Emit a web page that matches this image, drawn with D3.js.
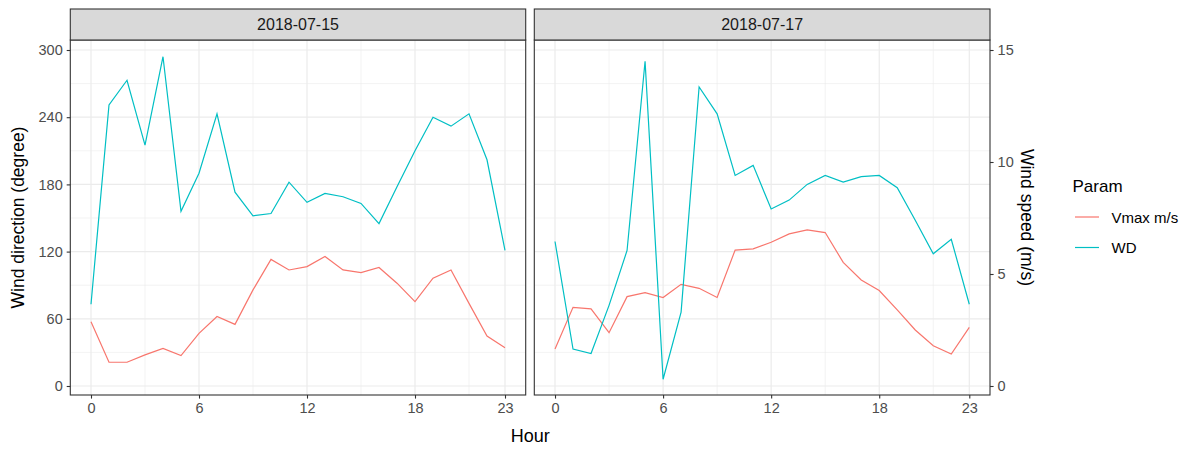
<!DOCTYPE html>
<html>
<head>
<meta charset="utf-8">
<script src="https://cdn.jsdelivr.net/npm/d3@7"></script>
<style>
  html, body { margin: 0; padding: 0; background: #ffffff; }
  svg { display: block; font-family: "Liberation Sans", Arial, sans-serif; }
</style>
</head>
<body>
<svg id="chart" width="1190" height="450"></svg>
<script>
// Hourly wind observations for two days
const dates = ["2018-07-15", "2018-07-17"];
const hours = d3.range(0, 24);

// Wind direction (degree)
const wd0715 = [73, 251, 273, 215, 294, 156, 190, 243, 173, 152, 154, 182,
                164, 172, 169, 163, 145, 178, 210, 240, 232, 243, 202, 121];
const wd0717 = [129, 33, 29, 72, 121, 290, 6, 66, 267, 243, 188, 197,
                158, 166, 180, 188, 182, 187, 188, 177, 148, 118, 131, 73];

// Maximum wind speed (m/s)
const vmax0715 = [2.87, 1.06, 1.06, 1.39, 1.68, 1.36, 2.35, 3.10, 2.75, 4.29, 5.65, 5.18,
                  5.33, 5.78, 5.18, 5.06, 5.29, 4.59, 3.77, 4.81, 5.18, 3.69, 2.23, 1.71];
const vmax0717 = [1.65, 3.51, 3.44, 2.38, 3.99, 4.17, 3.95, 4.54, 4.36, 3.95, 6.07, 6.12,
                  6.42, 6.79, 6.97, 6.85, 5.52, 4.73, 4.26, 3.40, 2.50, 1.80, 1.43, 2.62];

const seriesNames = ["Vmax m/s", "WD"];
const seriesColors = ["#F8766D", "#00BFC4"];
const xTicks = [0, 6, 12, 18, 23];
const xMinor = [3, 9, 15, 21];
const yTicks = [0, 60, 120, 180, 240, 300];
const yMinor = [30, 90, 150, 210, 270];
const speedTicks = [0, 5, 10, 15];
const speedFactor = 20; // speed axis: 1 m/s drawn as 20 degrees

const panelData = [
  { date: dates[0], wd: wd0715, vmax: vmax0715 },
  { date: dates[1], wd: wd0717, vmax: vmax0717 }
];

const svg = d3.select("#chart");
const panels = [{ x0: 70.3, x1: 525.7 }, { x0: 534.3, x1: 990 }];
const stripTop = 9, plotTop = 40, plotBottom = 395;
const ink = "#333333", tickInk = "#4D4D4D", grid = "#EBEBEB";

const y = d3.scaleLinear().domain([-8.04, 308.93]).range([plotBottom, plotTop]);
const ySpeed = d3.scaleLinear().domain([-8.04 / speedFactor, 308.93 / speedFactor]).range([plotBottom, plotTop]);

panelData.forEach((pd, i) => {
  const p = panels[i];
  const x = d3.scaleLinear().domain([-1.15, 24.15]).range([p.x0, p.x1]);
  const g = svg.append("g");

  // grid
  g.selectAll(".ymin").data(yMinor).join("line")
    .attr("x1", p.x0).attr("x2", p.x1).attr("y1", d => y(d)).attr("y2", d => y(d))
    .attr("stroke", grid).attr("stroke-width", 0.6);
  g.selectAll(".xmin").data(xMinor).join("line")
    .attr("y1", plotTop).attr("y2", plotBottom).attr("x1", d => x(d)).attr("x2", d => x(d))
    .attr("stroke", grid).attr("stroke-width", 0.6);
  g.selectAll(".ymaj").data(yTicks).join("line")
    .attr("x1", p.x0).attr("x2", p.x1).attr("y1", d => y(d)).attr("y2", d => y(d))
    .attr("stroke", grid).attr("stroke-width", 1.2);
  g.selectAll(".xmaj").data(xTicks).join("line")
    .attr("y1", plotTop).attr("y2", plotBottom).attr("x1", d => x(d)).attr("x2", d => x(d))
    .attr("stroke", grid).attr("stroke-width", 1.2);

  // lines
  const line = d3.line().x((d, k) => x(hours[k])).y(d => y(d));
  g.append("path").datum(pd.vmax.map(v => v * speedFactor))
    .attr("d", line).attr("fill", "none").attr("stroke", seriesColors[0]).attr("stroke-width", 1.2);
  g.append("path").datum(pd.wd)
    .attr("d", line).attr("fill", "none").attr("stroke", seriesColors[1]).attr("stroke-width", 1.2);

  // panel border
  g.append("rect").attr("x", p.x0).attr("y", plotTop).attr("width", p.x1 - p.x0).attr("height", plotBottom - plotTop)
    .attr("fill", "none").attr("stroke", ink).attr("stroke-width", 1.1);

  // strip
  g.append("rect").attr("x", p.x0).attr("y", stripTop).attr("width", p.x1 - p.x0).attr("height", plotTop - stripTop)
    .attr("fill", "#D9D9D9").attr("stroke", ink).attr("stroke-width", 1.1);
  g.append("text").attr("x", (p.x0 + p.x1) / 2).attr("y", (stripTop + plotTop) / 2)
    .attr("text-anchor", "middle").attr("dominant-baseline", "central")
    .attr("font-size", 16).attr("fill", "#1A1A1A").text(pd.date);

  // bottom axis
  const xAxis = d3.axisBottom(x).tickValues(xTicks).tickSize(3.6).tickPadding(4);
  const ax = g.append("g").attr("transform", `translate(0,${plotBottom})`).call(xAxis);
  ax.select(".domain").remove();
  ax.selectAll(".tick line").attr("stroke", ink).attr("stroke-width", 1.1);
  ax.selectAll(".tick text").attr("font-size", 14.5).attr("fill", tickInk).attr("font-family", null);
});

// left axis
const yAxis = d3.axisLeft(y).tickValues(yTicks).tickSize(3.6).tickPadding(4);
const ay = svg.append("g").attr("transform", `translate(${panels[0].x0},0)`).call(yAxis);
ay.select(".domain").remove();
ay.selectAll(".tick line").attr("stroke", ink).attr("stroke-width", 1.1);
ay.selectAll(".tick text").attr("font-size", 14.5).attr("fill", tickInk).attr("font-family", null);

// right (speed) axis
const sAxis = d3.axisRight(ySpeed).tickValues(speedTicks).tickSize(3.6).tickPadding(4);
const as = svg.append("g").attr("transform", `translate(${panels[1].x1},0)`).call(sAxis);
as.select(".domain").remove();
as.selectAll(".tick line").attr("stroke", ink).attr("stroke-width", 1.1);
as.selectAll(".tick text").attr("font-size", 14.5).attr("fill", tickInk).attr("font-family", null);

// axis titles
svg.append("text").attr("transform", `translate(24,${(plotTop + plotBottom) / 2}) rotate(-90)`)
  .attr("text-anchor", "middle").attr("font-size", 17.5).attr("fill", "#000").text("Wind direction (degree)");
svg.append("text").attr("transform", `translate(1021,${(plotTop + plotBottom) / 2}) rotate(90)`)
  .attr("text-anchor", "middle").attr("font-size", 17.5).attr("fill", "#000").text("Wind speed (m/s)");
svg.append("text").attr("x", (panels[0].x0 + panels[1].x1) / 2).attr("y", 441.5)
  .attr("text-anchor", "middle").attr("font-size", 18).attr("fill", "#000").text("Hour");

// legend
const lg = svg.append("g");
lg.append("text").attr("x", 1072.5).attr("y", 191.5).attr("font-size", 17).attr("fill", "#000").text("Param");
seriesNames.forEach((name, k) => {
  const cy = 217 + k * 30.5;
  lg.append("line").attr("x1", 1075).attr("x2", 1099).attr("y1", cy).attr("y2", cy)
    .attr("stroke", seriesColors[k]).attr("stroke-width", 1.2);
  lg.append("text").attr("x", 1111.5).attr("y", cy).attr("dominant-baseline", "central")
    .attr("font-size", 15).attr("fill", "#000").text(name);
});
</script>
</body>
</html>
